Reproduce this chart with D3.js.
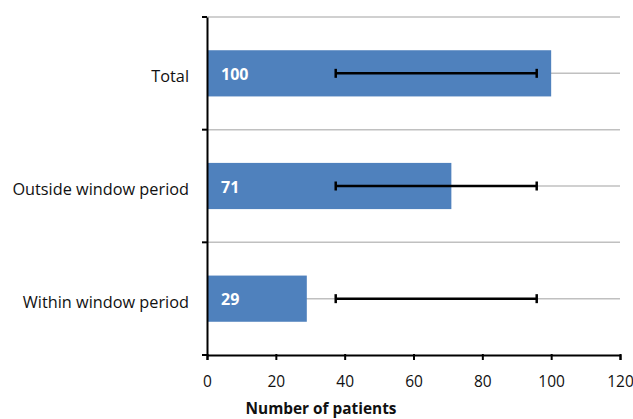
<!DOCTYPE html>
<html>
<head>
<meta charset="utf-8">
<script src="https://cdn.jsdelivr.net/npm/d3@7"></script>
<style>
  html, body { margin: 0; padding: 0; background: #fff; }
  svg { display: block; font-family: "Open Sans", sans-serif; }
</style>
</head>
<body>
<div id="chart"></div>
<script>
const width = 633,
  height = 419,
  margin = { left: 207, right: 13, top: 17, bottom: 64 };

const categories = ["Total", "Outside window period", "Within window period"];
const patients = [100, 71, 29];
const errLow = [37.4, 37.4, 37.4];
const errHigh = [95.8, 95.8, 95.8];
const xTicks = [0, 20, 40, 60, 80, 100, 120];

const xScale = d3
  .scaleLinear()
  .domain([0, 120])
  .range([margin.left, width - margin.right]);

const yScale = d3
  .scaleBand()
  .domain(categories)
  .range([margin.top, height - margin.bottom])
  .paddingInner(0.59)
  .paddingOuter(0.295);

const band = d3
  .scaleBand()
  .domain(categories)
  .range([margin.top, height - margin.bottom]);

const svg = d3
  .select("#chart")
  .append("svg")
  .attr("width", width)
  .attr("height", height);

// gridlines: category boundaries and centres
const gridYs = [];
categories.forEach((c) => {
  gridYs.push(band(c));
  gridYs.push(band(c) + band.bandwidth() / 2);
});

svg
  .append("g")
  .selectAll("line")
  .data(gridYs)
  .enter()
  .append("line")
  .attr("x1", xScale(0))
  .attr("x2", xScale(120))
  .attr("y1", (d) => d)
  .attr("y2", (d) => d)
  .attr("stroke", "#c0c0c0")
  .attr("stroke-width", 1.5);

const rows = categories.map((c, i) => ({
  cat: c,
  value: patients[i],
  lo: errLow[i],
  hi: errHigh[i],
}));

svg
  .append("g")
  .selectAll("rect")
  .data(rows)
  .enter()
  .append("rect")
  .attr("x", xScale(0))
  .attr("y", (d) => yScale(d.cat))
  .attr("width", (d) => xScale(d.value) - xScale(0))
  .attr("height", yScale.bandwidth())
  .attr("fill", "#4f81bd");

svg
  .append("g")
  .selectAll("text")
  .data(rows)
  .enter()
  .append("text")
  .attr("x", xScale(0) + 14)
  .attr("y", (d) => yScale(d.cat) + yScale.bandwidth() / 2 + 1)
  .attr("dy", "0.36em")
  .attr("fill", "#fff")
  .attr("font-weight", "bold")
  .attr("font-size", 16)
  .text((d) => d.value);

// error bars
const err = svg.append("g").attr("stroke", "#000").attr("stroke-width", 2.5);
rows.forEach((d) => {
  const cy = yScale(d.cat) + yScale.bandwidth() / 2;
  err
    .append("line")
    .attr("x1", xScale(d.lo))
    .attr("x2", xScale(d.hi))
    .attr("y1", cy)
    .attr("y2", cy);
  [d.lo, d.hi].forEach((v) => {
    err
      .append("line")
      .attr("x1", xScale(v))
      .attr("x2", xScale(v))
      .attr("y1", cy - 4.5)
      .attr("y2", cy + 4.5);
  });
});

// x axis
const xAxis = svg
  .append("g")
  .attr("transform", `translate(0,${height - margin.bottom})`)
  .call(d3.axisBottom(xScale).tickValues(xTicks).tickSize(5).tickPadding(16));
xAxis.select(".domain").attr("stroke", "#000").attr("stroke-width", 2);
xAxis.selectAll(".tick line").attr("stroke-width", 2).attr("y1", -1);
xAxis
  .selectAll(".tick text")
  .attr("font-size", 15.5)
  .attr("font-family", "Open Sans, sans-serif")
  .attr("fill", "#111");

// y axis
const yAxis = svg
  .append("g")
  .attr("transform", `translate(${margin.left},0)`)
  .call(d3.axisLeft(band).tickSize(0).tickPadding(18));
yAxis.select(".domain").attr("stroke", "#000").attr("stroke-width", 2);
yAxis
  .selectAll(".tick text")
  .attr("font-size", 16.3)
  .attr("font-family", "Open Sans, sans-serif")
  .attr("fill", "#111")
  .attr("dy", "0.55em");

// y ticks on category boundaries
const boundaries = categories.map((c) => band(c)).concat([band.range()[1]]);
svg
  .append("g")
  .selectAll("line")
  .data(boundaries)
  .enter()
  .append("line")
  .attr("x1", margin.left - 5)
  .attr("x2", margin.left)
  .attr("y1", (d) => d)
  .attr("y2", (d) => d)
  .attr("stroke", "#000")
  .attr("stroke-width", 2);

svg
  .append("text")
  .attr("x", 321)
  .attr("y", 414)
  .attr("text-anchor", "middle")
  .attr("font-weight", "bold")
  .attr("font-size", 15.4)
  .attr("fill", "#111")
  .text("Number of patients");
</script>
</body>
</html>
